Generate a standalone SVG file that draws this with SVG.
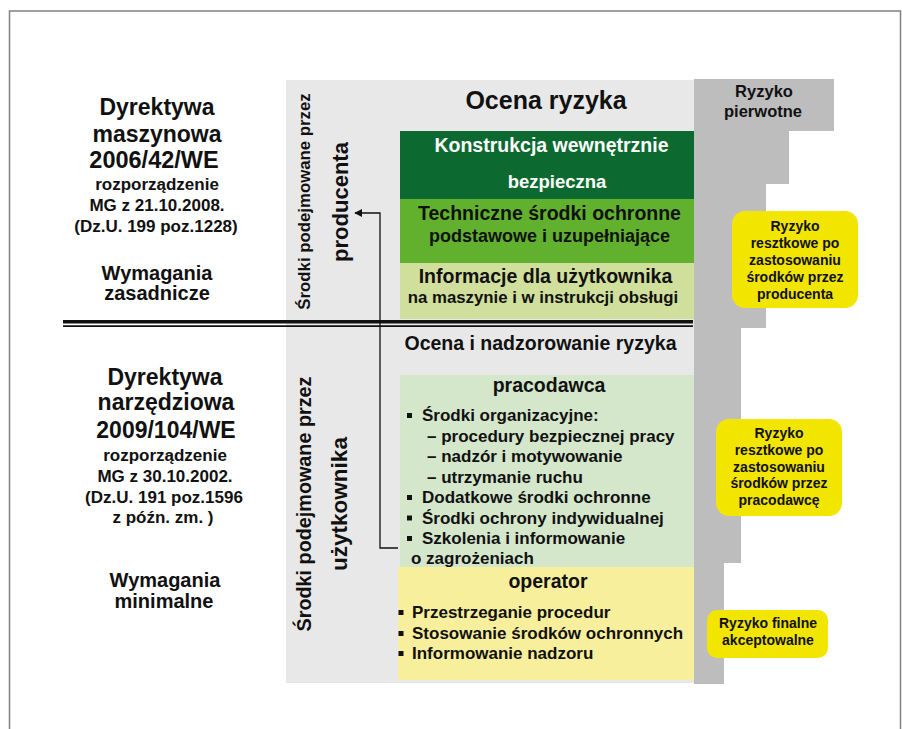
<svg xmlns="http://www.w3.org/2000/svg" width="902" height="729" viewBox="0 0 902 729">
<defs>
<style>
text{font-family:"Liberation Sans",Arial,sans-serif;font-weight:bold;fill:#111}
.c{text-anchor:middle}
.w{fill:#fff}
.conn{fill:none;stroke:#111;stroke-width:1.3}
</style>
<marker id="ah" viewBox="0 0 10 10" refX="9" refY="5" markerWidth="8" markerHeight="8" markerUnits="userSpaceOnUse" orient="auto">
<path d="M0,0 L10,5 L0,10 z" fill="#111"/>
</marker>
</defs>
<rect x="0" y="0" width="902" height="729" fill="#fff"/>
<rect x="9.5" y="11" width="891" height="740" fill="none" stroke="#808080" stroke-width="1.5"/>

<g id="panel">
<rect x="286" y="80" width="408" height="603" fill="#e8e8e8"/>
</g>
<g id="risk-steps">
<polygon points="694,79 834,79 834,131 789,131 789,184 766,184 766,328 741,328 741,563 724,563 724,684 694,684" fill="#bdbdbd"/>
<text class="c" x="764" y="97" font-size="16.5">Ryzyko</text>
<text class="c" x="763" y="117" font-size="16.5">pierwotne</text>
</g>

<g id="ocena-ryzyka">
<text class="c" x="546" y="109" font-size="25">Ocena ryzyka</text>
</g>
<g id="konstrukcja">
<rect x="400" y="131" width="294" height="68" fill="#0c6a30"/>
<text class="c w" x="551.5" y="152" font-size="19.5">Konstrukcja wewnętrznie</text>
<text class="c w" x="557" y="188" font-size="18.5">bezpieczna</text>
</g>
<g id="techniczne">
<rect x="400" y="199" width="294" height="64" fill="#62b12e"/>
<text class="c" x="549.5" y="220" font-size="19.5">Techniczne środki ochronne</text>
<text class="c" x="549.5" y="242" font-size="18">podstawowe i uzupełniające</text>
</g>
<g id="informacje">
<rect x="400" y="263" width="294" height="56" fill="#d0df9b"/>
<text class="c" x="545.5" y="283" font-size="19.5">Informacje dla użytkownika</text>
<text class="c" x="543" y="303" font-size="16.8">na maszynie i w instrukcji obsługi</text>
</g>

<g id="producent-label">
<text class="c" transform="translate(310,201.5) rotate(-90)" font-size="16.8">Środki podejmowane przez</text>
<text class="c" transform="translate(348,202) rotate(-90)" font-size="22">producenta</text>
</g>
<g id="uzytkownik-label">
<text class="c" transform="translate(311,504) rotate(-90)" font-size="19.8">Środki podejmowane przez</text>
<text class="c" transform="translate(347,504) rotate(-90)" font-size="22.5">użytkownika</text>
</g>

<g id="dyrektywa-maszynowa">
<text class="c" x="157" y="115" font-size="23">Dyrektywa</text>
<text class="c" x="157" y="142" font-size="23">maszynowa</text>
<text class="c" x="154" y="168" font-size="23.5">2006/42/WE</text>
<text class="c" x="157" y="190" font-size="17">rozporządzenie</text>
<text class="c" x="157" y="211" font-size="17">MG z 21.10.2008.</text>
<text class="c" x="156" y="232" font-size="17">(Dz.U. 199 poz.1228)</text>
<text class="c" x="157" y="280" font-size="20">Wymagania</text>
<text class="c" x="157" y="300" font-size="20">zasadnicze</text>
</g>
<g id="dyrektywa-narzedziowa">
<text class="c" x="165" y="385" font-size="23">Dyrektywa</text>
<text class="c" x="166" y="410" font-size="23">narzędziowa</text>
<text class="c" x="166" y="438" font-size="23">2009/104/WE</text>
<text class="c" x="165" y="461" font-size="17">rozporządzenie</text>
<text class="c" x="165" y="482" font-size="17">MG z 30.10.2002.</text>
<text class="c" x="164" y="503" font-size="17">(Dz.U. 191 poz.1596</text>
<text class="c" x="163" y="523" font-size="17">z późn. zm. )</text>
<text class="c" x="165" y="587" font-size="20">Wymagania</text>
<text class="c" x="164" y="608" font-size="20">minimalne</text>
</g>

<g id="divider">
<line x1="63" y1="321.8" x2="693" y2="321.8" stroke="#111" stroke-width="3.6"/>
<line x1="63" y1="326.2" x2="693" y2="326.2" stroke="#111" stroke-width="1.8"/>
</g>

<g id="ocena-nadzorowanie">
<text class="c" x="540.5" y="350" font-size="19.5">Ocena i nadzorowanie ryzyka</text>
</g>
<g id="pracodawca">
<rect x="400" y="375" width="294" height="192" fill="#d4e7cb"/>
<text class="c" x="549" y="392" font-size="19.5">pracodawca</text>
<g fill="#111">
<rect x="407" y="413" width="5" height="5"/>
<rect x="407" y="495" width="5" height="5"/>
<rect x="407" y="515.5" width="5" height="5"/>
<rect x="407" y="536" width="5" height="5"/>
</g>
<text x="422" y="421" font-size="17">Środki organizacyjne:</text>
<text x="427" y="441.5" font-size="17">– procedury bezpiecznej pracy</text>
<text x="427" y="462" font-size="17">– nadzór i motywowanie</text>
<text x="427" y="482.5" font-size="17">– utrzymanie ruchu</text>
<text x="422" y="503" font-size="17">Dodatkowe środki ochronne</text>
<text x="422" y="523.5" font-size="17">Środki ochrony indywidualnej</text>
<text x="422" y="544" font-size="17">Szkolenia i informowanie</text>
<text x="411" y="564" font-size="17">o zagrożeniach</text>
</g>
<g id="operator">
<rect x="398" y="567" width="296" height="113" fill="#f7ef9c"/>
<text class="c" x="548" y="588" font-size="19.5">operator</text>
<g fill="#111">
<rect x="398.5" y="610" width="5" height="5"/>
<rect x="398.5" y="631" width="5" height="5"/>
<rect x="398.5" y="651" width="5" height="5"/>
</g>
<text x="412" y="618" font-size="17">Przestrzeganie procedur</text>
<text x="412" y="639" font-size="17">Stosowanie środków ochronnych</text>
<text x="412" y="659" font-size="17">Informowanie nadzoru</text>
</g>

<g id="ryzyko-producent">
<rect x="732" y="211" width="126" height="97" rx="13" fill="#f2e500"/>
<text class="c" x="795" y="231" font-size="14">Ryzyko</text>
<text class="c" x="795" y="248" font-size="14">resztkowe po</text>
<text class="c" x="795" y="265" font-size="14">zastosowaniu</text>
<text class="c" x="795" y="282" font-size="14">środków przez</text>
<text class="c" x="795" y="299" font-size="14">producenta</text>
</g>
<g id="ryzyko-pracodawca">
<rect x="716" y="419" width="126" height="97" rx="13" fill="#f2e500"/>
<text class="c" x="779" y="438" font-size="14">Ryzyko</text>
<text class="c" x="779" y="455" font-size="14">resztkowe po</text>
<text class="c" x="779" y="471.5" font-size="14">zastosowaniu</text>
<text class="c" x="779" y="488" font-size="14">środków przez</text>
<text class="c" x="779" y="505" font-size="14">pracodawcę</text>
</g>
<g id="ryzyko-finalne">
<rect x="707" y="610" width="121" height="48" rx="10" fill="#f2e500"/>
<text class="c" x="768" y="628" font-size="14">Ryzyko finalne</text>
<text class="c" x="768" y="645" font-size="14">akceptowalne</text>
</g>

<g id="connectors">
<path class="conn" d="M398,548 H380 V213 H355" marker-end="url(#ah)"/>
</g>
</svg>
